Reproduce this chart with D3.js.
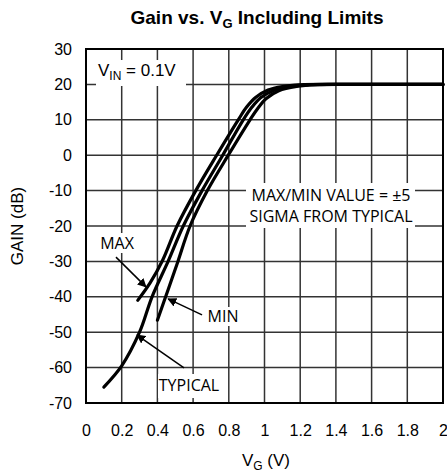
<!DOCTYPE html>
<html><head><meta charset="utf-8">
<script src="https://cdn.jsdelivr.net/npm/d3@7"></script>
<style>body{margin:0;background:#fff}svg{display:block}</style>
</head><body>
<svg id="c" width="447" height="476"></svg>
<script>
// ---- data ----
const xTicks = [0, 0.2, 0.4, 0.6, 0.8, 1, 1.2, 1.4, 1.6, 1.8, 2];
const xTickLabels = ["0", "0.2", "0.4", "0.6", "0.8", "1", "1.2", "1.4", "1.6", "1.8", "2"];
const yTicks = [30, 20, 10, 0, -10, -20, -30, -40, -50, -60, -70];
const yTickLabels = ["30", "20", "10", "0", "-10", "-20", "-30", "-40", "-50", "-60", "-70"];

const vgMax = [0.29, 0.36, 0.43, 0.51, 0.615, 0.732, 0.853, 0.90, 0.95, 1.02, 1.1, 1.2, 1.4, 2.0];
const gainMax = [-41, -36, -29.6, -20, -10, 0, 10, 13.6, 16.3, 18.4, 19.4, 19.9, 20, 20];

const vgTyp = [0.1, 0.2, 0.3, 0.37, 0.46, 0.545, 0.65, 0.766, 0.881, 0.93, 0.98, 1.05, 1.15, 1.25, 1.4, 2.0];
const gainTyp = [-65.5, -59.5, -50, -40, -30, -20, -10, 0, 10, 13.6, 16.3, 18.3, 19.5, 19.9, 20, 20];

const vgMin = [0.40, 0.46, 0.515, 0.583, 0.68, 0.797, 0.919, 0.965, 1.01, 1.08, 1.18, 1.3, 1.45, 2.0];
const gainMin = [-46.6, -38, -30, -20, -10, 0, 10, 13.4, 16.0, 18.2, 19.4, 19.9, 20, 20];

// ---- chart ----
const svg = d3.select("#c");
const L = 86, R = 443, T = 49, B = 403;
const x = d3.scaleLinear().domain([0, 2]).range([L, R]);
const y = d3.scaleLinear().domain([-70, 30]).range([B, T]);

const defs = svg.append("defs");
defs.append("marker").attr("id", "ah").attr("viewBox", "0 0 10 10")
  .attr("refX", 9).attr("refY", 5).attr("markerWidth", 9).attr("markerHeight", 9)
  .attr("markerUnits", "userSpaceOnUse").attr("orient", "auto")
  .append("path").attr("d", "M0,0 L10,5 L0,10 z").attr("fill", "#000");

// grid
svg.append("g").selectAll("line").data(xTicks).join("line")
  .attr("x1", d => x(d)).attr("x2", d => x(d)).attr("y1", T).attr("y2", B)
  .attr("stroke", "#333").attr("stroke-width", 1.5);
svg.append("g").selectAll("line").data(yTicks).join("line")
  .attr("x1", L).attr("x2", R).attr("y1", d => y(d)).attr("y2", d => y(d))
  .attr("stroke", "#333").attr("stroke-width", 1.5);

const arial = "Liberation Sans, Arial, sans-serif";
const ann = "Open Sans, Noto Sans, sans-serif";

const xAxis = svg.append("g").attr("transform", `translate(0,${B})`)
  .call(d3.axisBottom(x).tickValues(xTicks).tickFormat((d, i) => xTickLabels[i]).tickSize(0).tickPadding(22));
xAxis.select(".domain").remove();
xAxis.selectAll("text").attr("font-family", arial).attr("font-size", 16).attr("fill", "#000");

const yAxis = svg.append("g").attr("transform", `translate(${L},0)`)
  .call(d3.axisLeft(y).tickValues(yTicks).tickFormat((d, i) => yTickLabels[i]).tickSize(0).tickPadding(14));
yAxis.select(".domain").remove();
yAxis.selectAll("text").attr("font-family", arial).attr("font-size", 16).attr("fill", "#000");

// border
svg.append("rect").attr("x", L).attr("y", T).attr("width", R - L).attr("height", B - T)
  .attr("fill", "none").attr("stroke", "#000").attr("stroke-width", 2);

// white label boxes
function box(x0, y0, w, h) {
  svg.append("rect").attr("x", x0).attr("y", y0).attr("width", w).attr("height", h).attr("fill", "#fff");
}
box(96, 60, 90, 26);
box(246, 183, 169, 45);
box(97, 233, 40, 20);
box(205, 307, 36, 19);
box(158, 374, 63, 24);

// VIN label
const vin = svg.append("text").attr("x", 98).attr("y", 76).attr("font-family", arial).attr("font-size", 17);
vin.append("tspan").text("V");
vin.append("tspan").attr("font-size", 12).attr("dy", 4).text("IN");
vin.append("tspan").attr("dy", -4).text(" = 0.1V");

// sigma note
svg.append("text").attr("x", 331).attr("y", 201).attr("text-anchor", "middle")
  .attr("font-family", ann).attr("font-size", 16).text("MAX/MIN VALUE = ±5");
svg.append("text").attr("x", 331).attr("y", 222).attr("text-anchor", "middle")
  .attr("font-family", ann).attr("font-size", 16).text("SIGMA FROM TYPICAL");

// curve labels
svg.append("text").attr("x", 117).attr("y", 249).attr("text-anchor", "middle")
  .attr("font-family", ann).attr("font-size", 16).text("MAX");
svg.append("text").attr("x", 223).attr("y", 322).attr("text-anchor", "middle")
  .attr("font-family", ann).attr("font-size", 16).text("MIN");
svg.append("text").attr("x", 189).attr("y", 391).attr("text-anchor", "middle")
  .attr("font-family", ann).attr("font-size", 16).text("TYPICAL");

// curves
const line = d3.line().x(d => x(d[0])).y(d => y(d[1])).curve(d3.curveCatmullRom.alpha(0.5));
const series = [
  d3.zip(vgMax, gainMax),
  d3.zip(vgTyp, gainTyp),
  d3.zip(vgMin, gainMin)
];
svg.append("g").selectAll("path").data(series).join("path")
  .attr("d", line).attr("fill", "none").attr("stroke", "#000")
  .attr("stroke-width", 3.2).attr("stroke-linecap", "round").attr("stroke-linejoin", "round");

// arrows (data coords)
const arrows = [
  [[0.168, -28.8], [0.336, -37.2]],
  [[0.65, -45.1], [0.46, -40.6]],
  [[0.549, -60.1], [0.286, -50.8]]
];
svg.append("g").selectAll("line").data(arrows).join("line")
  .attr("x1", d => x(d[0][0])).attr("y1", d => y(d[0][1]))
  .attr("x2", d => x(d[1][0])).attr("y2", d => y(d[1][1]))
  .attr("stroke", "#000").attr("stroke-width", 1.5).attr("marker-end", "url(#ah)");

// title
const t = svg.append("text").attr("x", 257).attr("y", 24).attr("text-anchor", "middle")
  .attr("font-family", arial).attr("font-weight", "bold").attr("font-size", 19);
t.append("tspan").text("Gain vs. V");
t.append("tspan").attr("font-size", 13).attr("dy", 4).text("G");
t.append("tspan").attr("dy", -4).text(" Including Limits");

// axis titles
const xt = svg.append("text").attr("x", 266).attr("y", 466).attr("text-anchor", "middle")
  .attr("font-family", arial).attr("font-size", 17);
xt.append("tspan").text("V");
xt.append("tspan").attr("font-size", 12).attr("dy", 4).text("G");
xt.append("tspan").attr("dy", -4).text(" (V)");

svg.append("text").attr("transform", "translate(23,226) rotate(-90)").attr("text-anchor", "middle")
  .attr("font-family", arial).attr("font-size", 17).text("GAIN (dB)");
</script>
</body></html>
